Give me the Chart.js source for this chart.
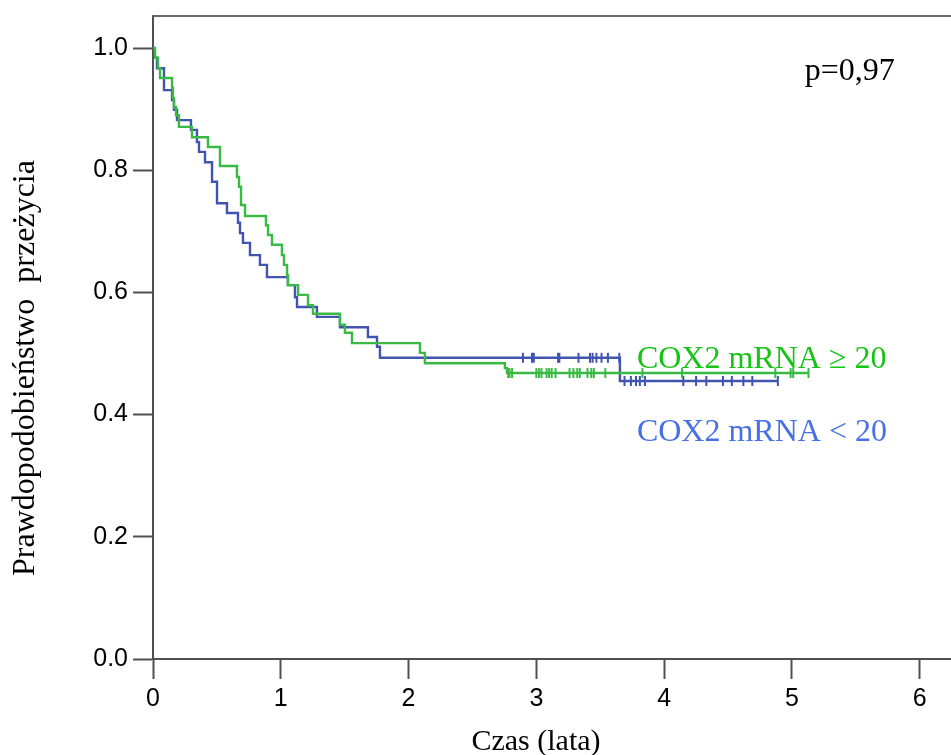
<!DOCTYPE html>
<html>
<head>
<meta charset="utf-8">
<script src="https://cdn.jsdelivr.net/npm/chart.js@4.4.1/dist/chart.umd.min.js"></script>
<style>
  html, body { margin: 0; padding: 0; background: #ffffff; }
  #wrap { width: 951px; height: 755px; position: relative; }
</style>
</head>
<body>
<div id="wrap"><canvas id="c" width="951" height="755"></canvas></div>
<script>
// ---------- data ----------
const groupNames = ['COX2 mRNA \u2265 20', 'COX2 mRNA < 20'];

// COX2 mRNA >= 20 (green): event times (years) and survival after each drop
const greenTimes = [0.016, 0.039, 0.055, 0.149, 0.156, 0.164, 0.180, 0.203, 0.305, 0.430,
                    0.524, 0.657, 0.673, 0.689, 0.720, 0.884, 0.900, 0.931, 1.009, 1.025,
                    1.049, 1.056, 1.135, 1.213, 1.252, 1.463, 1.502, 1.557, 2.089, 2.128,
                    2.754, 2.770];
const greenSurv  = [0.984, 0.967, 0.951, 0.935, 0.918, 0.903, 0.890, 0.871, 0.854, 0.838,
                    0.807, 0.789, 0.773, 0.743, 0.725, 0.710, 0.694, 0.678, 0.661, 0.645,
                    0.628, 0.612, 0.596, 0.579, 0.565, 0.547, 0.534, 0.517, 0.501, 0.484,
                    0.476, 0.468];
const greenEnd = 5.13;
const greenCensored = [2.78, 2.79, 2.81, 3.00, 3.02, 3.04, 3.08, 3.10, 3.12, 3.15, 3.26, 3.29,
                       3.32, 3.34, 3.40, 3.43, 3.45, 3.54, 3.83, 4.14, 4.87, 4.99, 5.01, 5.13];

// COX2 mRNA < 20 (blue)
const blueTimes = [0.008, 0.031, 0.086, 0.149, 0.164, 0.188, 0.297, 0.344, 0.360, 0.407,
                   0.462, 0.501, 0.579, 0.665, 0.681, 0.704, 0.759, 0.837, 0.892, 1.056,
                   1.111, 1.127, 1.283, 1.463, 1.682, 1.753, 1.776, 3.654];
const blueSurv  = [0.984, 0.967, 0.931, 0.915, 0.899, 0.882, 0.866, 0.846, 0.830, 0.813,
                   0.781, 0.746, 0.730, 0.714, 0.697, 0.681, 0.661, 0.645, 0.625, 0.612,
                   0.592, 0.576, 0.560, 0.543, 0.527, 0.511, 0.493, 0.455];
const blueEnd = 4.89;
const blueCensored = [2.895, 2.966, 2.98, 3.17, 3.18, 3.33, 3.42, 3.44, 3.47, 3.51, 3.56, 3.649,
                      3.69, 3.74, 3.78, 3.81, 3.85, 4.15, 4.25, 4.33, 4.46, 4.53, 4.62, 4.69, 4.89];

const xTickValues = [0, 1, 2, 3, 4, 5, 6];
const yTickValues = [0.0, 0.2, 0.4, 0.6, 0.8, 1.0];
const pValueText = 'p=0,97';
const xTitle = 'Czas (lata)';
const yTitle = 'Prawdopodobie\u0144stwo  prze\u017cycia';

// ---------- helpers ----------
function kmPoints(times, surv, end) {
  const pts = [{x: 0, y: 1}];
  times.forEach((t, i) => pts.push({x: t, y: surv[i]}));
  pts.push({x: end, y: surv[surv.length - 1]});
  return pts;
}
function survAt(times, surv, t) {
  let s = 1;
  for (let i = 0; i < times.length; i++) { if (times[i] <= t) s = surv[i]; }
  return s;
}
function censorPoints(times, surv, cens) {
  return cens.map(t => ({x: t, y: survAt(times, surv, t)}));
}

const GREEN_LINE = 'rgb(58,186,68)';
const BLUE_LINE = 'rgb(64,84,176)';
const GREEN_TEXT = 'rgb(22,196,22)';
const BLUE_TEXT = 'rgb(72,112,228)';
const AXIS = '#505050';
const SERIF = '"Liberation Serif", "Times New Roman", serif';

const overlay = {
  id: 'overlay',
  afterDraw(chart) {
    const {ctx, chartArea, scales} = chart;
    const xs = scales.x, ys = scales.y;
    ctx.save();
    // top frame line
    ctx.strokeStyle = '#6a6a6a';
    ctx.lineWidth = 2;
    ctx.beginPath();
    ctx.moveTo(chartArea.left, chartArea.top);
    ctx.lineTo(chart.width, chartArea.top);
    ctx.stroke();

    ctx.textBaseline = 'alphabetic';
    ctx.textAlign = 'left';
    ctx.font = '32px ' + SERIF;
    ctx.fillStyle = '#000';
    ctx.fillText(pValueText, xs.getPixelForValue(5.10), ys.getPixelForValue(0.947));
    ctx.fillStyle = GREEN_TEXT;
    ctx.fillText(groupNames[0], xs.getPixelForValue(3.787), ys.getPixelForValue(0.476));
    ctx.fillStyle = BLUE_TEXT;
    ctx.fillText(groupNames[1], xs.getPixelForValue(3.787), ys.getPixelForValue(0.357));

    // axis titles
    ctx.fillStyle = '#000';
    ctx.textAlign = 'center';
    ctx.font = '30px ' + SERIF;
    ctx.fillText(xTitle, 536, 750);
    ctx.font = '32px ' + SERIF;
    ctx.translate(34, 368);
    ctx.rotate(-Math.PI / 2);
    ctx.fillText(yTitle, 0, 0);
    ctx.restore();
  }
};

new Chart(document.getElementById('c'), {
  type: 'line',
  data: {
    datasets: [
      {
        label: groupNames[1],
        data: kmPoints(blueTimes, blueSurv, blueEnd),
        borderColor: BLUE_LINE, borderWidth: 2.4, stepped: 'before',
        pointRadius: 0, fill: false, order: 2
      },
      {
        label: groupNames[0],
        data: kmPoints(greenTimes, greenSurv, greenEnd),
        borderColor: GREEN_LINE, borderWidth: 2.4, stepped: 'before',
        pointRadius: 0, fill: false, order: 1
      },
      {
        label: 'censored <20',
        data: censorPoints(blueTimes, blueSurv, blueCensored),
        showLine: false, pointStyle: 'line', rotation: 90, pointRadius: 5,
        borderColor: BLUE_LINE, pointBorderColor: BLUE_LINE, pointBorderWidth: 2, order: 2
      },
      {
        label: 'censored >=20',
        data: censorPoints(greenTimes, greenSurv, greenCensored),
        showLine: false, pointStyle: 'line', rotation: 90, pointRadius: 5,
        borderColor: GREEN_LINE, pointBorderColor: GREEN_LINE, pointBorderWidth: 2, order: 1
      }
    ]
  },
  options: {
    responsive: false,
    animation: false,
    layout: { autoPadding: false, padding: { top: 16, right: 0, left: 0, bottom: 0 } },
    plugins: { legend: { display: false }, tooltip: { enabled: false } },
    scales: {
      x: {
        type: 'linear', min: 0, max: 6.245,
        afterBuildTicks: s => { s.ticks = xTickValues.map(v => ({value: v})); },
        afterFit: s => { s.height = 96; s.paddingLeft = 0; s.paddingRight = 0; },
        ticks: {
          color: '#000', padding: 5,
          font: { family: '"Liberation Sans", Arial, sans-serif', size: 25 },
          callback: v => String(v)
        },
        grid: { display: true, drawOnChartArea: false, drawTicks: true, tickLength: 20, tickColor: AXIS, tickWidth: 2 },
        border: { display: true, color: AXIS, width: 2 }
      },
      y: {
        type: 'linear', min: 0, max: 1.0524,
        afterBuildTicks: s => { s.ticks = yTickValues.map(v => ({value: v})); },
        afterFit: s => { s.width = 153; s.paddingTop = 0; s.paddingBottom = 0; },
        ticks: {
          color: '#000', padding: 5,
          font: { family: '"Liberation Sans", Arial, sans-serif', size: 25 },
          callback: v => Number(v).toFixed(1)
        },
        grid: { display: true, drawOnChartArea: false, drawTicks: true, tickLength: 20, tickColor: AXIS, tickWidth: 2 },
        border: { display: true, color: AXIS, width: 2 }
      }
    }
  },
  plugins: [overlay]
});
</script>
</body>
</html>
